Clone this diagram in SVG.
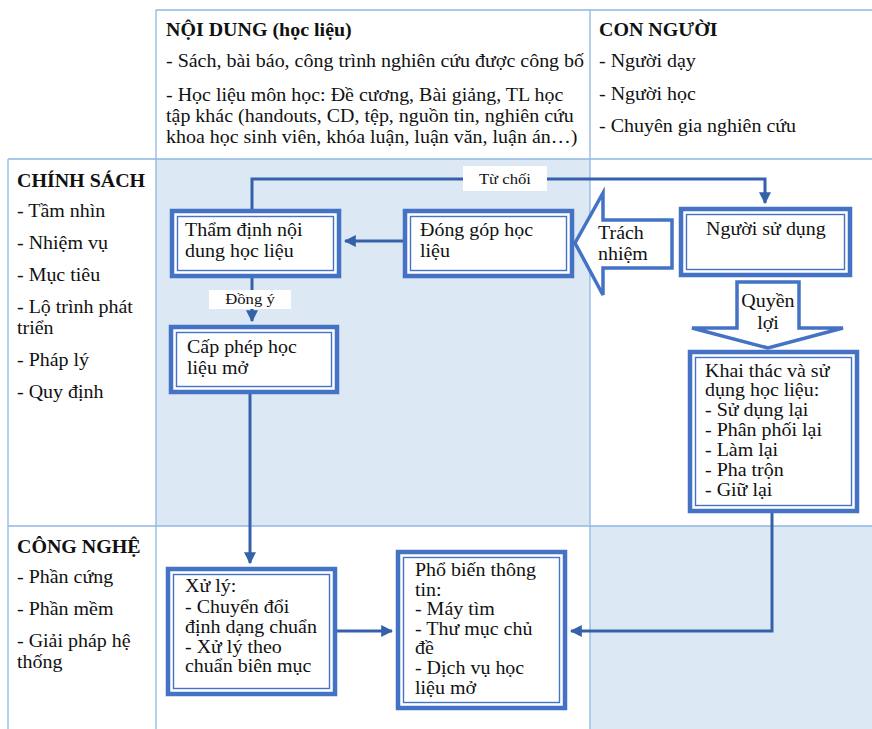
<svg xmlns="http://www.w3.org/2000/svg" width="872" height="729" viewBox="0 0 872 729">
<defs>
<style>
text{font-family:"Liberation Serif","Times New Roman",serif;font-size:18px;fill:#111;transform-box:fill-box;transform-origin:0 0;transform:scaleX(1.11)}
text[text-anchor="middle"]{transform-origin:50% 0}
.b{font-weight:bold}
.s{font-size:15px}
.grid{stroke:#8fb8e3;stroke-width:1.3;fill:none}
.shade{fill:#dde8f5}
.outer{fill:#fff;stroke:#4472c4;stroke-width:4.5}
.inner{fill:none;stroke:#4472c4;stroke-width:1.4}
.con{fill:none;stroke:#3461aa;stroke-width:3}
.blk{fill:#fff;stroke:#4472c4;stroke-width:3.5;stroke-linejoin:miter}
.lbl{fill:#fff}
</style>
<marker id="ah" viewBox="0 0 10 10" refX="9" refY="5" markerWidth="4" markerHeight="4" orient="auto" markerUnits="strokeWidth">
<path d="M0,0 L10,5 L0,10 z" fill="#3461aa"/>
</marker>
</defs>
<rect width="872" height="729" fill="#fff"/>
<g id="grid">
<rect class="shade" x="156" y="159" width="434" height="367"/>
<rect class="shade" x="590" y="526" width="282" height="203"/>
<path class="grid" d="M156,10 H872 M8,159 H872 M8,526 H872 M156,10 V729 M590,10 V729 M8,159 V729"/>
</g>
<g id="header-noi-dung">
<text class="b" x="166" y="36">NỘI DUNG (học liệu)</text>
<text x="166" y="67">- Sách, bài báo, công trình nghiên cứu được công bố</text>
<text x="166" y="101">- Học liệu môn học: Đề cương, Bài giảng, TL học</text>
<text x="166" y="122">tập khác (handouts, CD, tệp, nguồn tin, nghiên cứu</text>
<text x="166" y="143">khoa học sinh viên, khóa luận, luận văn, luận án…)</text>
</g>
<g id="header-con-nguoi">
<text class="b" x="599" y="36">CON NGƯỜI</text>
<text x="599" y="67">- Người dạy</text>
<text x="599" y="100">- Người học</text>
<text x="599" y="132">- Chuyên gia nghiên cứu</text>
</g>
<g id="row-chinh-sach">
<text class="b" x="17" y="187">CHÍNH SÁCH</text>
<text x="17" y="217">- Tầm nhìn</text>
<text x="17" y="249">- Nhiệm vụ</text>
<text x="17" y="281">- Mục tiêu</text>
<text x="17" y="313">- Lộ trình phát</text>
<text x="17" y="334">triển</text>
<text x="17" y="366">- Pháp lý</text>
<text x="17" y="398">- Quy định</text>
</g>
<g id="row-cong-nghe">
<text class="b" x="17" y="553">CÔNG NGHỆ</text>
<text x="17" y="583">- Phần cứng</text>
<text x="17" y="615">- Phần mềm</text>
<text x="17" y="647">- Giải pháp hệ</text>
<text x="17" y="668">thống</text>
</g>
<g id="connectors">
<path class="con" d="M252,209 V179 H765 V203" marker-end="url(#ah)"/>
<rect class="lbl" x="463" y="166" width="84" height="25"/>
<text class="s" x="505" y="184" text-anchor="middle">Từ chối</text>
<path class="con" d="M403,241 H345" marker-end="url(#ah)"/>
<path class="con" d="M252,278 V321" marker-end="url(#ah)"/>
<rect class="lbl" x="209" y="290" width="82" height="19"/>
<text class="s" x="250" y="304" text-anchor="middle">Đồng ý</text>
<path class="con" d="M250,394 V563" marker-end="url(#ah)"/>
<path class="con" d="M337,631 H392" marker-end="url(#ah)"/>
<path class="con" d="M772,513 V631 H571" marker-end="url(#ah)"/>
</g>
<g id="arrow-trach-nhiem">
<path class="blk" d="M575,243 L603,193 L603,220 L672,220 L672,268 L603,268 L603,295 Z"/>
<text x="598" y="239">Trách</text>
<text x="598" y="260">nhiệm</text>
</g>
<g id="arrow-quyen-loi">
<path class="blk" d="M737,282 L799,282 L799,328 L843,328 L768,348 L692,328 L737,328 Z"/>
<text x="768" y="307" text-anchor="middle">Quyền</text>
<text x="768" y="329" text-anchor="middle">lợi</text>
</g>
<g id="node-tham-dinh">
<rect class="outer" x="172" y="211" width="167" height="65"/>
<rect class="inner" x="177.5" y="216.5" width="156" height="54"/>
<text x="185" y="236">Thẩm định nội</text>
<text x="185" y="257">dung học liệu</text>
</g>
<g id="node-dong-gop">
<rect class="outer" x="405" y="211" width="167" height="65"/>
<rect class="inner" x="410.5" y="216.5" width="156" height="54"/>
<text x="420" y="236">Đóng góp học</text>
<text x="420" y="257">liệu</text>
</g>
<g id="node-cap-phep">
<rect class="outer" x="171" y="327" width="166" height="65"/>
<rect class="inner" x="176.5" y="332.5" width="155" height="54"/>
<text x="187" y="353">Cấp phép học</text>
<text x="187" y="374">liệu mở</text>
</g>
<g id="node-nguoi-su-dung">
<rect class="outer" x="681" y="209" width="169" height="66"/>
<rect class="inner" x="686.5" y="214.5" width="158" height="55"/>
<text x="706" y="235">Người sử dụng</text>
</g>
<g id="node-khai-thac">
<rect class="outer" x="690" y="352" width="167" height="159"/>
<rect class="inner" x="695.5" y="357.5" width="156" height="148"/>
<text x="705" y="377">Khai thác và sử</text>
<text x="705" y="396">dụng học liệu:</text>
<text x="705" y="416">- Sử dụng lại</text>
<text x="705" y="436">- Phân phối lại</text>
<text x="705" y="456">- Làm lại</text>
<text x="705" y="476">- Pha trộn</text>
<text x="705" y="496">- Giữ lại</text>
</g>
<g id="node-xu-ly">
<rect class="outer" x="168" y="569" width="167" height="125"/>
<rect class="inner" x="173.5" y="574.5" width="156" height="114"/>
<text x="185" y="592">Xử lý:</text>
<text x="185" y="613">- Chuyển đổi</text>
<text x="185" y="633">định dạng chuẩn</text>
<text x="185" y="653">- Xử lý theo</text>
<text x="185" y="672">chuẩn biên mục</text>
</g>
<g id="node-pho-bien">
<rect class="outer" x="398" y="552" width="167" height="156"/>
<rect class="inner" x="403.5" y="557.5" width="156" height="145"/>
<text x="415" y="576">Phổ biến thông</text>
<text x="415" y="596">tin:</text>
<text x="415" y="615">- Máy tìm</text>
<text x="415" y="635">- Thư mục chủ</text>
<text x="415" y="654">đề</text>
<text x="415" y="674">- Dịch vụ học</text>
<text x="415" y="694">liệu mở</text>
</g>
</svg>
